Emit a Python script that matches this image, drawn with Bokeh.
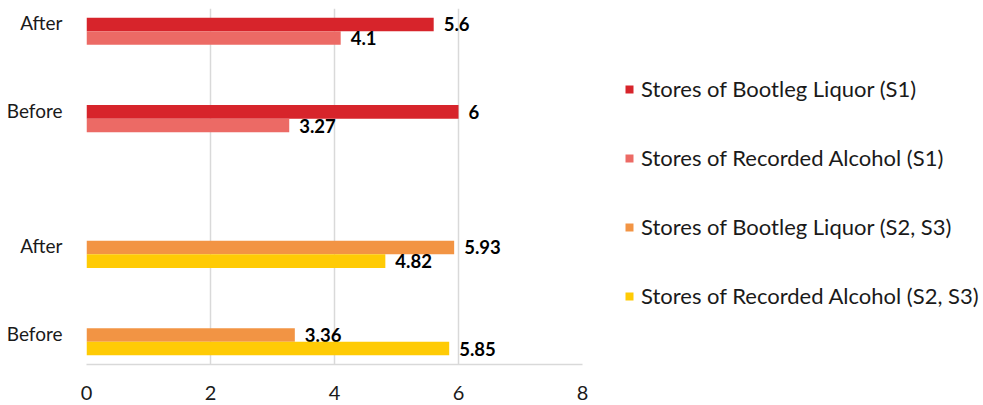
from bokeh.plotting import figure
from bokeh.models import (FactorRange, Range1d, FixedTicker, Legend, LegendItem,
                          ColumnDataSource)
from bokeh.transform import dodge
from bokeh.core.properties import value
from bokeh.embed import file_html
from bokeh.resources import INLINE

# ---- data (bottom-to-top order within each group) ----
periods = ["Before", "After"]
s1_bootleg = [6, 5.6]
s1_recorded = [3.27, 4.1]
s23_bootleg = [3.36, 5.93]
s23_recorded = [5.85, 4.82]
x_ticks = [0, 2, 4, 6, 8]

series_names = [
    "Stores of Bootleg Liquor (S1)",
    "Stores of Recorded Alcohol (S1)",
    "Stores of Bootleg Liquor (S2, S3)",
    "Stores of Recorded Alcohol (S2, S3)",
]
colors = ["#d7242b", "#ec6a65", "#f29444", "#ffcb05"]

FONT = "Lato"

# axis labels sit a little above the bar pairs (as in the original): a trailing
# empty line lifts each label
disp = [p_ + "\n" for p_ in periods]
factors = [("S2, S3", d) for d in disp] + [("S1", d) for d in disp]

p = figure(frame_width=496, frame_height=356, output_backend="svg", toolbar_location=None,
           x_range=Range1d(0, 8),
           y_range=FactorRange(*factors, factor_padding=0.0, group_padding=0.55,
                               range_padding=-0.24, range_padding_units="absolute"),
           min_border_left=86, min_border_right=397, min_border_top=8,
           min_border_bottom=33)
p.outline_line_color = None
p.background_fill_color = "white"
p.border_fill_color = "white"

H = 0.155
OFF = 0.078

def src(group, vals):
    return ColumnDataSource(dict(y=[(group, d) for d in disp], x=vals,
                                 lab=[f"{v:g}" for v in vals]))

sources = [src("S1", s1_bootleg), src("S1", s1_recorded),
           src("S2, S3", s23_bootleg), src("S2, S3", s23_recorded)]
offsets = [OFF, -OFF, OFF, -OFF]

renderers = []
for s, off, c in zip(sources, offsets, colors):
    r = p.hbar(y=dodge("y", off, range=p.y_range), right="x", left=0, height=H,
               source=s, fill_color=c, line_color=None)
    renderers.append(r)
    p.text(x="x", y=dodge("y", off, range=p.y_range), text="lab", source=s,
           x_offset=10, text_baseline="middle", text_align="left",
           text_font=value(FONT), text_font_style="bold",
           text_font_size="18.5px", text_color="black")

# axes
p.xaxis.ticker = FixedTicker(ticks=x_ticks)
p.xaxis.major_tick_line_color = None
p.xaxis.minor_tick_line_color = None
p.xaxis.axis_line_color = "#d9d9d9"
p.xaxis.axis_line_width = 1.5
p.xaxis.major_label_text_font = FONT
p.xaxis.major_label_text_font_size = "20px"
p.xaxis.major_label_text_color = "#1a1a1a"
p.xaxis.major_label_standoff = 15

p.yaxis.axis_line_color = None
p.yaxis.major_tick_line_color = None
p.yaxis.minor_tick_line_color = None
p.yaxis.major_label_text_font = FONT
p.yaxis.major_label_text_font_size = "19px"
p.yaxis.major_label_text_color = "#1a1a1a"
p.yaxis.major_label_text_line_height = 0.75
p.yaxis.major_label_standoff = 18
p.yaxis.group_text_font_size = "1px"
p.yaxis.group_text_alpha = 0
p.yaxis.group_label_orientation = "horizontal"
p.yaxis.separator_line_color = None

p.xgrid.grid_line_color = "#d9d9d9"
p.xgrid.grid_line_width = 1.5
p.ygrid.grid_line_color = None

legend = Legend(items=[LegendItem(label=n, renderers=[r]) for n, r in zip(series_names, renderers)],
                location=(42, 55), orientation="vertical",
                glyph_width=10, glyph_height=10, label_height=20,
                spacing=42, padding=0, margin=0, label_standoff=7,
                label_text_font=FONT, label_text_font_size="22px",
                label_text_color="#1a1a1a", border_line_color=None,
                background_fill_alpha=0)
p.add_layout(legend, "right")

open("out.html", "w").write(file_html(p, INLINE))
